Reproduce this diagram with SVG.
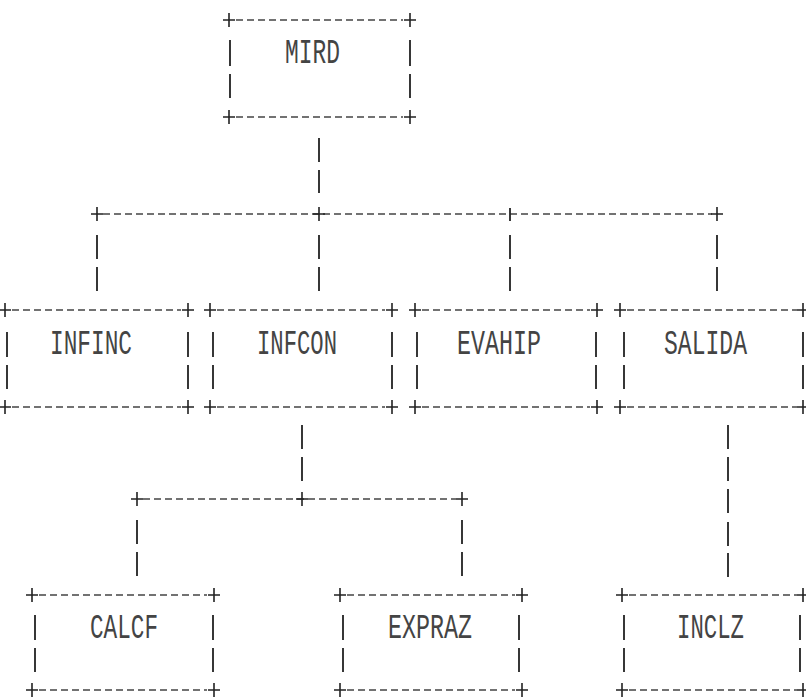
<svg xmlns="http://www.w3.org/2000/svg" xmlns:xlink="http://www.w3.org/1999/xlink" width="806" height="698" viewBox="0 0 806 698">
<style>
.d{stroke:#444;stroke-width:1.3;stroke-dasharray:7 4;fill:none}
.b{stroke:#222;stroke-width:1.8;fill:none}
.t{font-family:"Liberation Mono","DejaVu Sans Mono",monospace;font-size:35px;fill:#444}
</style>
<defs>
<path id="plus" d="M-6 0H6M0 -7V7" stroke="#222" stroke-width="1.6" fill="none"/>
</defs>
<rect width="806" height="698" fill="#fff"/>

<g id="connectors">
<path class="b" d="M319 138V162M319 170V193"/>
<path class="d" d="M103 214H712"/>
<use href="#plus" x="97" y="214"/>
<use href="#plus" x="319" y="214"/>
<use href="#plus" x="717" y="214"/>
<path class="b" d="M510 208V221"/>
<path class="b" d="M97 235V259M97 267V291M319 235V259M319 267V291M510 235V259M510 267V291M717 235V259M717 267V291"/>
<path class="b" d="M302 425V449M302 457V481"/>
<path class="d" d="M143 499H456"/>
<use href="#plus" x="137" y="499"/>
<use href="#plus" x="302" y="499"/>
<use href="#plus" x="462" y="499"/>
<path class="b" d="M137 520V544M137 552V576M462 520V544M462 552V576"/>
<path class="b" d="M728 425V449M728 457V481M728 489V513M728 522V546M728 553V577"/>
</g>

<g id="MIRD">
<path class="d" d="M236 20H403M236 117H403"/>
<use href="#plus" x="229" y="20"/><use href="#plus" x="410" y="20"/>
<use href="#plus" x="229" y="117"/><use href="#plus" x="410" y="117"/>
<path class="b" d="M230 40V66M230 74V98M410 40V66M410 74V98"/>
<text class="t" x="285" y="63" textLength="55" lengthAdjust="spacingAndGlyphs">MIRD</text>
</g>

<g id="INFINC">
<path class="d" d="M12 310H181M12 407H181"/>
<use href="#plus" x="5" y="310"/><use href="#plus" x="188" y="310"/>
<use href="#plus" x="5" y="407"/><use href="#plus" x="188" y="407"/>
<path class="b" d="M7 332V357M7 365V389M188 332V357M188 365V389"/>
<text class="t" x="50" y="354" textLength="82" lengthAdjust="spacingAndGlyphs">INFINC</text>
</g>

<g id="INFCON">
<path class="d" d="M217 310H385M217 407H385"/>
<use href="#plus" x="210" y="310"/><use href="#plus" x="392" y="310"/>
<use href="#plus" x="210" y="407"/><use href="#plus" x="392" y="407"/>
<path class="b" d="M213 332V357M213 365V389M392 332V357M392 365V389"/>
<text class="t" x="257" y="354" textLength="80" lengthAdjust="spacingAndGlyphs">INFCON</text>
</g>

<g id="EVAHIP">
<path class="d" d="M422 310H590M422 407H590"/>
<use href="#plus" x="415" y="310"/><use href="#plus" x="597" y="310"/>
<use href="#plus" x="415" y="407"/><use href="#plus" x="597" y="407"/>
<path class="b" d="M417 332V357M417 365V389M596 332V357M596 365V389"/>
<text class="t" x="457" y="354" textLength="84" lengthAdjust="spacingAndGlyphs">EVAHIP</text>
</g>

<g id="SALIDA">
<path class="d" d="M627 310H797M627 407H797"/>
<use href="#plus" x="620" y="310"/><use href="#plus" x="803" y="310"/>
<use href="#plus" x="620" y="407"/><use href="#plus" x="803" y="407"/>
<path class="b" d="M624 332V357M624 365V389M803 332V357M803 365V389"/>
<text class="t" x="664" y="354" textLength="83" lengthAdjust="spacingAndGlyphs">SALIDA</text>
</g>

<g id="CALCF">
<path class="d" d="M39 595H207M39 690H207"/>
<use href="#plus" x="32" y="595"/><use href="#plus" x="214" y="595"/>
<use href="#plus" x="32" y="690"/><use href="#plus" x="214" y="690"/>
<path class="b" d="M35 615V640M35 648V672M213 615V640M213 648V672"/>
<text class="t" x="90" y="638" textLength="68" lengthAdjust="spacingAndGlyphs">CALCF</text>
</g>

<g id="EXPRAZ">
<path class="d" d="M347 595H515M347 690H515"/>
<use href="#plus" x="340" y="595"/><use href="#plus" x="522" y="595"/>
<use href="#plus" x="340" y="690"/><use href="#plus" x="522" y="690"/>
<path class="b" d="M343 615V640M343 648V672M519 615V640M519 648V672"/>
<text class="t" x="388" y="638" textLength="84" lengthAdjust="spacingAndGlyphs">EXPRAZ</text>
</g>

<g id="INCLZ">
<path class="d" d="M629 595H797M629 690H797"/>
<use href="#plus" x="622" y="595"/><use href="#plus" x="803" y="595"/>
<use href="#plus" x="622" y="690"/><use href="#plus" x="803" y="690"/>
<path class="b" d="M624 615V640M624 648V672M800 615V640M800 648V672"/>
<text class="t" x="677" y="638" textLength="67" lengthAdjust="spacingAndGlyphs">INCLZ</text>
</g>
</svg>
